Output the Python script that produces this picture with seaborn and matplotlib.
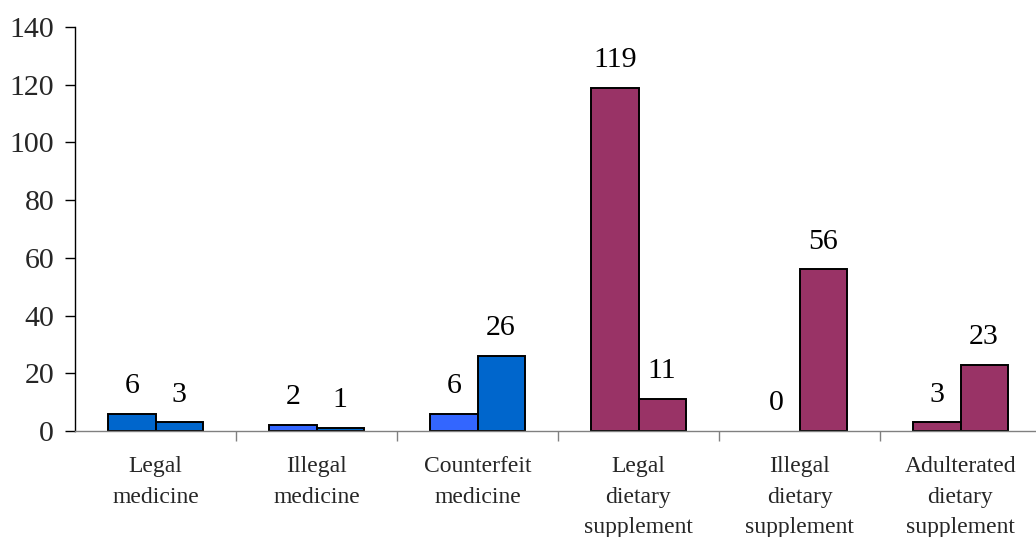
import numpy as np
import pandas as pd
import matplotlib
matplotlib.use("Agg")
import matplotlib.pyplot as plt
import seaborn as sns

# Categories and the two counts per category
categories = ["Legal\nmedicine", "Illegal\nmedicine", "Counterfeit\nmedicine",
              "Legal\ndietary\nsupplement", "Illegal\ndietary\nsupplement",
              "Adulterated\ndietary\nsupplement"]
first_values = [6, 2, 6, 119, 0, 3]
second_values = [3, 1, 26, 11, 56, 23]
y_ticks = [0, 20, 40, 60, 80, 100, 120, 140]

# Fill colours per bar (first bar, second bar) for each category
first_colors = ["#0066CC", "#3366FF", "#3366FF", "#993366", "#993366", "#993366"]
second_colors = ["#0066CC", "#0066CC", "#0066CC", "#993366", "#993366", "#993366"]

df = pd.DataFrame({
    "category": categories * 2,
    "series": ["first"] * len(categories) + ["second"] * len(categories),
    "value": first_values + second_values,
})

sns.set_theme(style="white")
plt.rcParams["font.family"] = ["Liberation Serif", "DejaVu Serif"]

fig = plt.figure(figsize=(10.36, 5.37), dpi=100)
ax = fig.add_axes([75 / 1036, 106 / 537, 966 / 1036, 404 / 537])

sns.barplot(data=df, x="category", y="value", hue="series", order=categories,
            hue_order=["first", "second"], width=0.584, dodge=True,
            palette=["#0066CC", "#0066CC"], edgecolor="black", linewidth=1.4,
            legend=False, ax=ax)

# Recolour bars individually and label them with their values
bars = [p for p in ax.patches if p.get_width() > 0]
bars.sort(key=lambda p: p.get_x())
colors = [c for pair in zip(first_colors, second_colors) for c in pair]
values = [v for pair in zip(first_values, second_values) for v in pair]
for bar, col, val in zip(bars, colors, values):
    bar.set_facecolor(col)
    if val == 0:
        bar.set_linewidth(0)
    ax.annotate(f"{val}", (bar.get_x() + bar.get_width() / 2, val),
                xytext=(0, 15), textcoords="offset points",
                ha="center", va="baseline", fontsize=21.5, color="black")

ax.set_xlim(-0.5, len(categories) - 0.5)
ax.set_ylim(0, 140)
ax.set_yticks(y_ticks)
ax.set_yticklabels([str(t) for t in y_ticks], fontsize=21.5)
ax.set_xlabel("")
ax.set_ylabel("")

# Category labels centred under each group, separator ticks between groups
ax.set_xticks(range(len(categories)))
ax.set_xticklabels(categories, fontsize=17, linespacing=1.6, va="top")
ax.set_xticks(np.arange(0.5, len(categories) - 0.5, 1.0), minor=True)
ax.tick_params(axis="x", which="major", length=0, pad=18)
ax.tick_params(axis="x", which="minor", length=7, width=1, color="#808080",
               direction="out", bottom=True)
ax.tick_params(axis="y", which="major", length=7, width=1, color="black",
               direction="out", left=True, pad=8)

for side in ["top", "right"]:
    ax.spines[side].set_visible(False)
ax.spines["left"].set_color("black")
ax.spines["left"].set_linewidth(1)
ax.spines["bottom"].set_color("#808080")
ax.spines["bottom"].set_linewidth(1)

fig.savefig("out.png", dpi=100, facecolor="white")
